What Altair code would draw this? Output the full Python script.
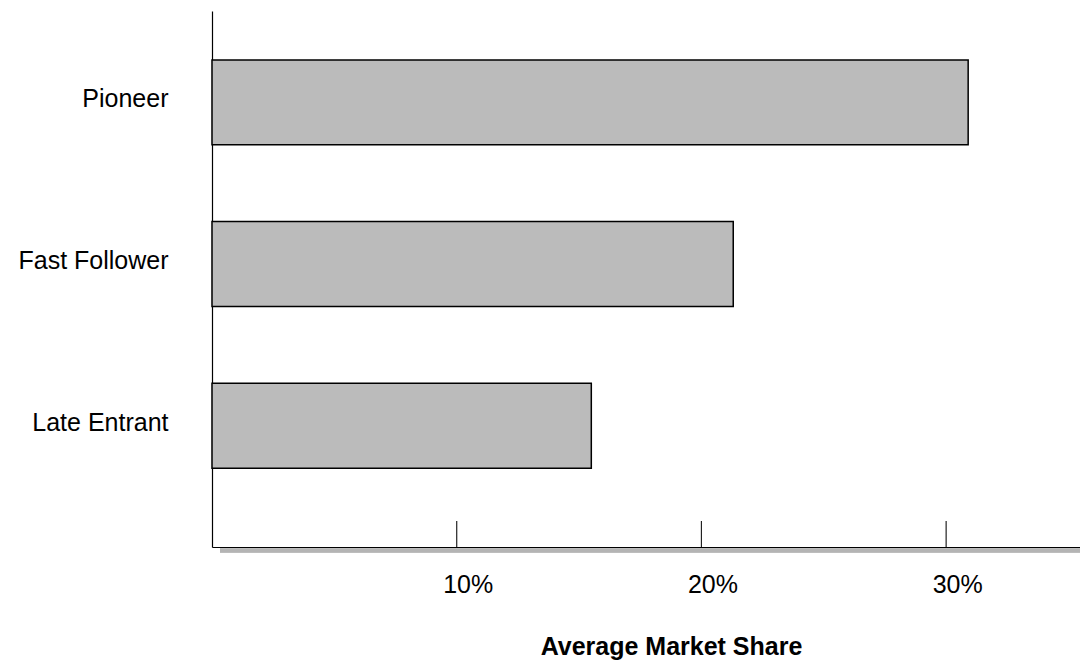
import altair as alt
import pandas as pd

categories = ["Pioneer", "Fast Follower", "Late Entrant"]
shares = [30.9, 21.3, 15.5]
tick_values = [10, 20, 30]

bars_df = pd.DataFrame({"entry": categories, "share": shares})
ticks_df = pd.DataFrame({"t": tick_values})

FONT = "Liberation Sans"
FS = 25

x_scale = alt.Scale(domain=[0, 35.47], nice=False, zero=True)
y_scale = alt.Scale(domain=categories, paddingInner=0.475, paddingOuter=0.395, align=0.383)

bars = alt.Chart(bars_df).mark_bar(
    fill="#bbbbbb", stroke="#000000", strokeWidth=1.5
).encode(
    x=alt.X("share:Q", scale=x_scale, axis=alt.Axis(
        values=tick_values, labelExpr="datum.value + '%'", ticks=False, grid=False,
        domainColor="#000000", domainWidth=1.2, labelFont=FONT, labelFontSize=FS,
        labelColor="#000000", labelPadding=25, labelOffset=11,
        title="Average Market Share", titleFont=FONT, titleFontSize=FS,
        titleFontWeight="bold", titleColor="#000000", titleX=459, titleY=107,
        titleAlign="center", titleBaseline="alphabetic")),
    y=alt.Y("entry:N", scale=y_scale, sort=categories, axis=alt.Axis(
        title=None, ticks=False, grid=False, domainColor="#000000", domainWidth=1.2,
        labelFont=FONT, labelFontSize=FS, labelColor="#000000", labelPadding=44,
        labelOffset=-3)),
)

shadow = alt.Chart(ticks_df).mark_rule(color="#b4b4b4", strokeWidth=4).encode(
    x=alt.value(8), x2=alt.value(868), y=alt.value(539.5)
)

ticks = alt.Chart(ticks_df).mark_rule(color="#222222", strokeWidth=1.2).encode(
    x=alt.X("t:Q", scale=x_scale), y=alt.value(510), y2=alt.value(536)
)

chart = alt.layer(shadow, bars, ticks).properties(
    width=868, height=536,
    autosize=alt.AutoSizeParams(type="none"),
    padding={"left": 212, "top": 11, "right": 0, "bottom": 119},
).configure(background="white").configure_view(stroke=None)

chart.save("out.html", embed_options={"renderer": "svg", "actions": False})
